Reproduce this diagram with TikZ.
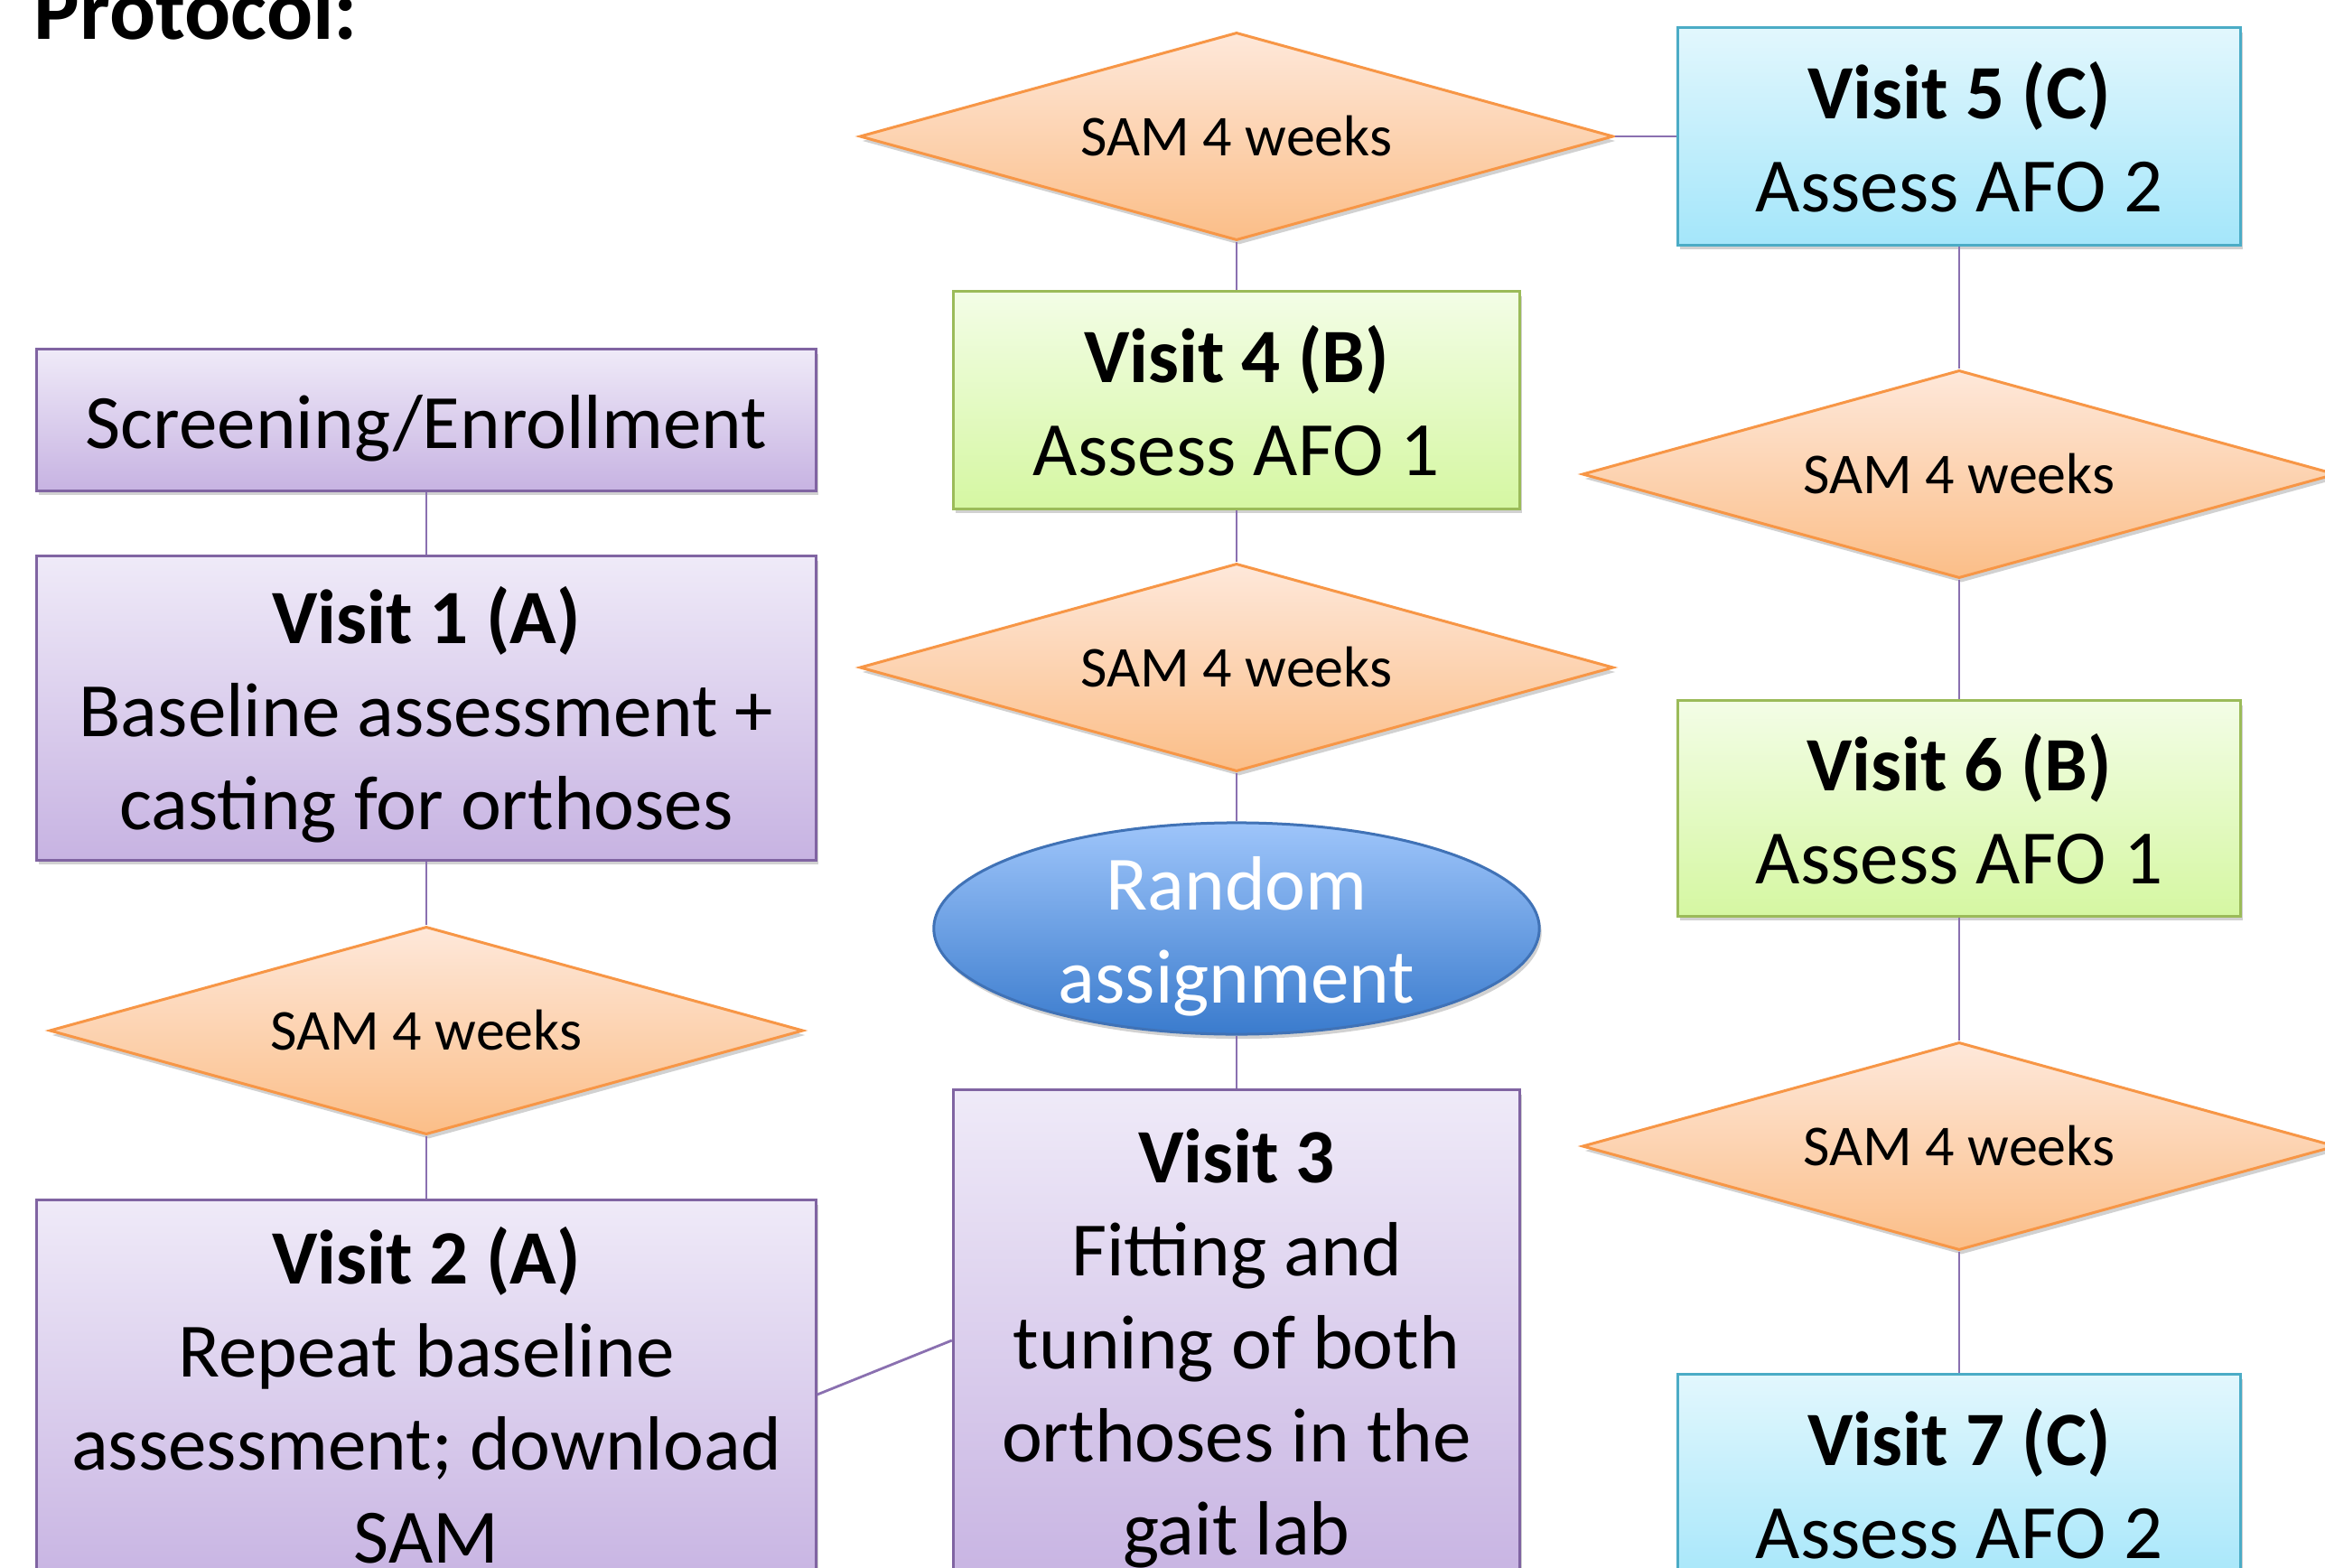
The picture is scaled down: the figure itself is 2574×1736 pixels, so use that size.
\documentclass[tikz,border=0pt]{standalone}
\usepackage{fontspec}
\setmainfont{Carlito}
\usetikzlibrary{shapes.geometric,shadows}
\definecolor{purpleB}{HTML}{8064A2}
\definecolor{purpleT}{HTML}{EFEAF8}
\definecolor{purpleBot}{HTML}{C7B3E2}
\definecolor{greenB}{HTML}{9BBB59}
\definecolor{greenT}{HTML}{F3FDE6}
\definecolor{greenBot}{HTML}{D5F7A2}
\definecolor{blueB}{HTML}{4BACC6}
\definecolor{blueT}{HTML}{E2F7FD}
\definecolor{blueBot}{HTML}{A4E6FA}
\definecolor{orangeB}{HTML}{F79646}
\definecolor{orangeT}{HTML}{FEE8DA}
\definecolor{orangeBot}{HTML}{FBBE88}
\definecolor{ellT}{HTML}{9EC5FA}
\definecolor{ellBot}{HTML}{3A7BCD}
\definecolor{ellB}{HTML}{4072B6}
\definecolor{lineC}{HTML}{8A70B0}
% first line: fixed top; last line: no depth (text centred on line metrics)
\newcommand\firstl{\vphantom{(}}
\newcommand\lastl[1]{\raisebox{0pt}[\height][0pt]{#1}}
\tikzset{
  bigtext/.style={font=\fontsize{24.2}{29.3}\selectfont},
  shadowed/.style={drop shadow={shadow xshift=0.025cm, shadow yshift=-0.05cm, opacity=0.18, fill=black}},
  boxbase/.style={rectangle, line width=0.03cm, inner sep=0pt, align=center, bigtext, shadowed},
  pbox/.style={boxbase, draw=purpleB, top color=purpleT, bottom color=purpleBot},
  gbox/.style={boxbase, draw=greenB, top color=greenT, bottom color=greenBot},
  bbox/.style={boxbase, draw=blueB, top color=blueT, bottom color=blueBot},
  dia/.style={diamond, aspect=3.6, minimum width=8.34cm, minimum height=2.30cm, inner sep=0pt,
    line width=0.03cm, draw=orangeB, top color=orangeT, bottom color=orangeBot,
    font=\fontsize{18.2}{22}\selectfont, shadowed},
  ell/.style={ellipse, minimum width=6.70cm, minimum height=2.34cm, inner sep=0pt,
    line width=0.03cm, draw=ellB, top color=ellT, bottom color=ellBot, shadowed},
  elltext/.style={inner sep=0pt, align=center, text=white, bigtext},
  conn/.style={draw=lineC, line width=0.028cm}
}
\begin{document}
\begin{tikzpicture}[x=0.01cm,y=-0.01cm]
\useasboundingbox (0,0) rectangle (2574,1736);
\fill[white] (0,0) rectangle (2574,1736);

\node[anchor=base west, inner sep=0pt, font=\bfseries\fontsize{27.1}{30}\selectfont] (title) at (37,43) {Protocol:};

% left column
\node[pbox, minimum width=8.62cm, minimum height=1.56cm] (scr) at (472,465) {\lastl{\firstl Screening/Enrollment}};
\node[pbox, minimum width=8.62cm, minimum height=3.36cm] (v1) at (472,784) {\firstl\textbf{Visit 1 (A)}\\Baseline assessment +\\\lastl{casting for orthoses}};
\node[dia] (dL) at (472,1141) {SAM 4 weeks};
\node[pbox, minimum width=8.62cm, minimum height=4.30cm] (v2) at (472,1544) {\firstl\textbf{Visit 2 (A)}\\Repeat baseline\\assessment; download\\\lastl{SAM}};

% middle column
\node[dia] (dT) at (1369,151) {SAM 4 weeks};
\node[gbox, minimum width=6.27cm, minimum height=2.40cm] (v4) at (1369,443) {\firstl\textbf{Visit 4 (B)}\\\lastl{Assess AFO 1}};
\node[dia] (dM) at (1369,739) {SAM 4 weeks};
\node[ell] (rnd) at (1369,1028) {};
\node[elltext] (rndt) at (rnd.center) {\firstl Random\\\lastl{assignment}};
\node[pbox, minimum width=6.27cm, minimum height=5.54cm] (v3) at (1369,1484) {\firstl\textbf{Visit 3}\\Fitting and\\tuning of both\\orthoses in the\\\lastl{gait lab}};

% right column
\node[bbox, minimum width=6.22cm, minimum height=2.40cm] (v5) at (2169,151) {\firstl\textbf{Visit 5 (C)}\\\lastl{Assess AFO 2}};
\node[dia] (dR1) at (2169,525) {SAM 4 weeks};
\node[gbox, minimum width=6.22cm, minimum height=2.38cm] (v6) at (2169,895) {\firstl\textbf{Visit 6 (B)}\\\lastl{Assess AFO 1}};
\node[dia] (dR2) at (2169,1269) {SAM 4 weeks};
\node[bbox, minimum width=6.22cm, minimum height=2.40cm] (v7) at (2169,1642) {\firstl\textbf{Visit 7 (C)}\\\lastl{Assess AFO 2}};

% connectors
\draw[conn] (scr) -- (v1);
\draw[conn] (v1) -- (dL);
\draw[conn] (dL) -- (v2);
\draw[conn] (v2.east) -- (v3.west);
\draw[conn] (v3) -- (rnd);
\draw[conn] (rnd) -- (dM);
\draw[conn] (dM) -- (v4);
\draw[conn] (v4) -- (dT);
\draw[conn] (dT.east) -- (v5.west);
\draw[conn] (v5) -- (dR1);
\draw[conn] (dR1) -- (v6);
\draw[conn] (v6) -- (dR2);
\draw[conn] (dR2) -- (v7);
\end{tikzpicture}
\end{document}
